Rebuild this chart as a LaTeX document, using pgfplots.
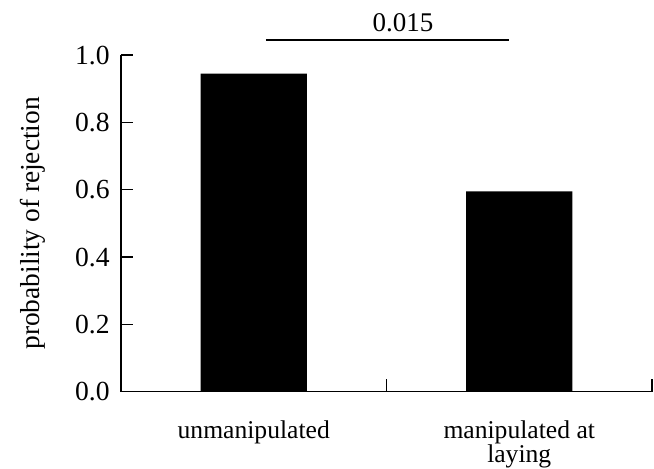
\documentclass[border=0pt]{standalone}
\usepackage{pgfplots}
\pgfplotsset{compat=1.18}
\usepackage{fontspec}
\setmainfont{Liberation Serif}
\begin{document}
\begin{tikzpicture}
\begin{axis}[
  scale only axis,
  width=265.5pt, height=168.3pt,
  xmin=0, xmax=2, ymin=0, ymax=1,
  axis x line*=bottom, axis y line*=left,
  axis line style={-, line width=0.7pt},
  every tick/.style={black, line width=0.7pt},
  major tick length=6.2pt,
  tick align=inside,
  clip=false,
  xtick={0,1,2}, xticklabels={},
  extra x ticks={0.5,1.5},
  extra x tick labels={unmanipulated,{manipulated at\\laying}},
  extra x tick style={major tick length=0pt,
    xticklabel style={anchor=north, inner sep=0pt, yshift=-14.3pt, align=center,
      font=\fontsize{12.8pt}{12pt}\selectfont}},
  ytick={0,0.2,0.4,0.6,0.8,1.0},
  yticklabel style={/pgf/number format/.cd, fixed, fixed zerofill, precision=1, /tikz/.cd,
    anchor=east, inner sep=0pt, xshift=-5.5pt, font=\fontsize{13.8pt}{15pt}\selectfont},
  /pgf/number format/assume math mode=true,
  ylabel={probability of rejection},
  every axis y label/.style={at={(axis description cs:-0.1657,0.5)}, rotate=90, anchor=center,
    font=\fontsize{13.7pt}{15pt}\selectfont},
]
\addplot[ybar, bar width=0.4, fill=black, draw=none] coordinates {(0.5,0.945) (1.5,0.595)};
\addplot[black, line width=0.7pt] coordinates {(0.546,1.0445) (1.461,1.0445)};
\node[anchor=base, inner sep=0pt, font=\fontsize{13.5pt}{15pt}\selectfont] at (axis cs:1.062,1.069) {0.015};
\end{axis}
\pgfresetboundingbox
\path (-60.5pt,-38.65pt) rectangle (266.5pt,195.85pt);
\end{tikzpicture}
\end{document}
